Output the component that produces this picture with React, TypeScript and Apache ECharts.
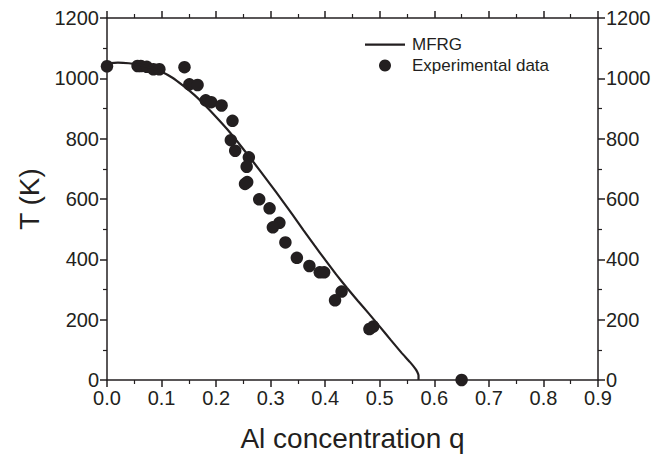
import React, { useEffect, useRef } from "react";
import * as echarts from "echarts";

const mfrgQ = [0.0, 0.02, 0.04, 0.06, 0.08, 0.1, 0.12, 0.14, 0.16, 0.18, 0.2, 0.22, 0.24, 0.26, 0.28, 0.3, 0.32, 0.34, 0.36, 0.38, 0.4, 0.42, 0.44, 0.46, 0.48, 0.5, 0.52, 0.54, 0.555, 0.565, 0.569, 0.571, 0.571];
const mfrgT = [1050, 1052, 1050, 1045, 1035, 1022, 1002, 975, 945, 910, 872, 832, 788, 742, 695, 647, 598, 548, 497, 447, 398, 350, 305, 262, 220, 177, 133, 90, 60, 38, 26, 15, 0];

const expQ = [0.0, 0.056, 0.062, 0.073, 0.085, 0.096, 0.142, 0.151, 0.166, 0.181, 0.191, 0.21, 0.23, 0.227, 0.235, 0.26, 0.256, 0.257, 0.253, 0.279, 0.298, 0.316, 0.304, 0.327, 0.348, 0.371, 0.39, 0.398, 0.43, 0.418, 0.488, 0.481, 0.65];
const expT = [1040, 1041, 1041, 1038, 1030, 1030, 1037, 980, 978, 927, 921, 910, 859, 795, 760, 738, 707, 656, 650, 599, 569, 521, 506, 456, 405, 378, 357, 357, 293, 264, 177, 169, 0];

const xTicks = [0, 0.1, 0.2, 0.3, 0.4, 0.5, 0.6, 0.7, 0.8, 0.9];
const yTicks = [0, 200, 400, 600, 800, 1000, 1200];

const INK = "#231f20";
const FONT = "Liberation Sans, Arial, sans-serif";
const LINE_ICON = "path://M0,0 L0.01,0 L0.01,0.01 Z M0,5 L40,5 L40,7.2 L0,7.2 Z M0,12 L0.01,12 L0.01,11.99 Z";

export default function App() {
  const ref = useRef<HTMLDivElement>(null);
  useEffect(() => {
    if (!ref.current) return;
    const chart = echarts.init(ref.current, undefined, { renderer: "svg" });
    const axisCommon = {
      axisLine: { show: true, onZero: false, lineStyle: { color: INK, width: 1.5 } },
      axisTick: { show: true, inside: false, length: 7, lineStyle: { color: INK, width: 1.5 } },
      minorTick: { show: true, splitNumber: 2, length: 4, lineStyle: { color: INK, width: 1.2 } },
      splitLine: { show: false },
    };
    const labelStyle = { color: INK, fontSize: 20, fontFamily: FONT };
    chart.setOption({
      animation: false,
      backgroundColor: "#ffffff",
      textStyle: { fontFamily: FONT },
      grid: { left: 107, right: 61, top: 18, bottom: 82, containLabel: false },
      legend: {
        orient: "vertical",
        left: 360,
        top: 31,
        itemWidth: 40,
        itemHeight: 12,
        itemGap: 4,
        textStyle: { color: INK, fontSize: 17, fontFamily: FONT, padding: [0, 0, 0, 2] },
        data: [
          { name: "MFRG", icon: LINE_ICON },
          { name: "Experimental data", icon: "circle" },
        ],
      },
      xAxis: [
        {
          type: "value",
          position: "bottom",
          min: xTicks[0],
          max: xTicks[xTicks.length - 1],
          interval: 0.1,
          ...axisCommon,
          axisLabel: { ...labelStyle, margin: 8, formatter: (v: number) => v.toFixed(1) },
          name: "Al concentration q",
          nameLocation: "middle",
          nameGap: 44,
          nameTextStyle: { color: INK, fontSize: 28, fontFamily: FONT },
        },
        {
          type: "value",
          position: "top",
          min: xTicks[0],
          max: xTicks[xTicks.length - 1],
          interval: 0.1,
          ...axisCommon,
          axisLabel: { show: false },
        },
      ],
      yAxis: [
        {
          type: "value",
          position: "left",
          min: yTicks[0],
          max: yTicks[yTicks.length - 1],
          interval: 200,
          ...axisCommon,
          axisLabel: { ...labelStyle, margin: 8, formatter: (v: number) => String(v) },
          name: "T (K)",
          nameLocation: "middle",
          nameGap: 55,
          nameTextStyle: { color: INK, fontSize: 28, fontFamily: FONT },
        },
        {
          type: "value",
          position: "right",
          min: yTicks[0],
          max: yTicks[yTicks.length - 1],
          interval: 200,
          ...axisCommon,
          axisLabel: { ...labelStyle, margin: 8, formatter: (v: number) => String(v) },
        },
      ],
      series: [
        {
          name: "MFRG",
          type: "line",
          data: mfrgQ.map((q, i) => [q, mfrgT[i]]),
          showSymbol: false,
          symbol: "none",
          smooth: 0.15,
          lineStyle: { color: INK, width: 2.2 },
          itemStyle: { color: INK },
          z: 3,
        },
        {
          name: "Experimental data",
          type: "scatter",
          data: expQ.map((q, i) => [q, expT[i]]),
          symbol: "circle",
          symbolSize: 12.5,
          itemStyle: { color: INK, opacity: 1 },
          clip: false,
          z: 2,
        },
      ],
    });
    return () => chart.dispose();
  }, []);
  return <div ref={ref} style={{ width: 659, height: 462, position: "absolute", left: 0, top: 0 }} />;
}
